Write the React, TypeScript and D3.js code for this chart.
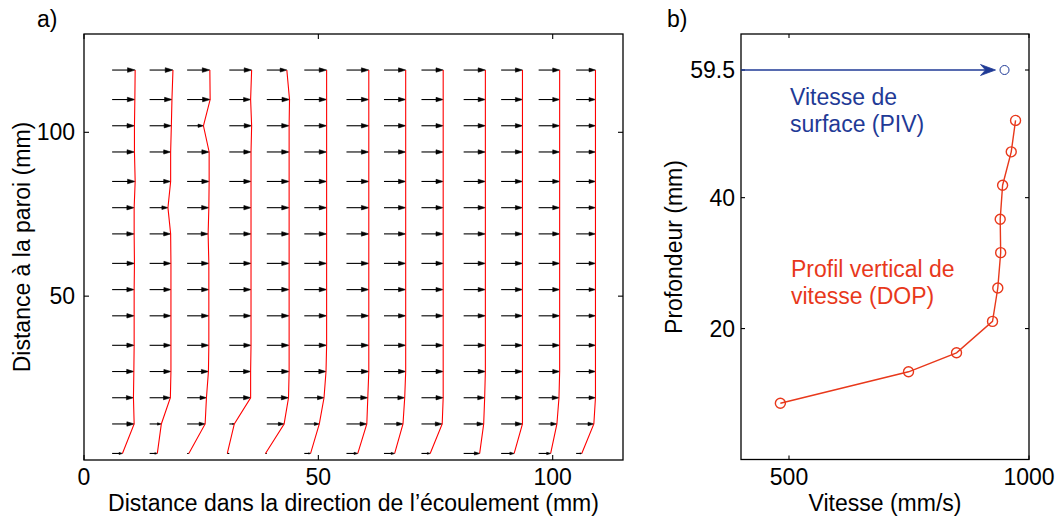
import React from 'react';
import * as d3 from 'd3';

// ---------- Panel a: PIV velocity field ----------
// vertical positions of the grid rows (mm, distance to the wall)
const rowPositions = [2, 11, 19, 27, 35, 44, 52, 60, 69, 77, 85, 94, 102, 110, 119];
// horizontal positions of the profile columns (mm)
const columnPositions = [6, 14, 22, 31, 39, 47, 56, 64, 72, 81, 89, 97, 105];
// streamwise velocity (mm/s) per column, rows bottom -> top
const profile01 = [440, 940, 910, 927, 940, 940, 940, 953, 940, 940, 983, 953, 953, 970, 983];
const profile02 = [329, 500, 885, 910, 910, 910, 910, 910, 897, 782, 897, 897, 927, 953, 996];
const profile03 = [73, 769, 825, 910, 927, 927, 927, 927, 897, 927, 940, 940, 697, 983, 970];
const profile04 = [-85, 214, 910, 910, 927, 927, 927, 927, 927, 927, 927, 927, 953, 910, 953];
const profile05 = [-56, 739, 927, 953, 953, 953, 953, 953, 953, 953, 953, 953, 953, 970, 855];
const profile06 = [269, 641, 842, 927, 953, 953, 953, 953, 953, 953, 953, 953, 953, 953, 953];
const profile07 = [483, 868, 910, 953, 953, 953, 953, 953, 953, 953, 953, 953, 953, 953, 953];
const profile08 = [457, 812, 885, 927, 927, 927, 927, 927, 927, 927, 927, 927, 927, 927, 927];
const profile09 = [372, 885, 927, 927, 927, 927, 927, 927, 927, 927, 927, 927, 927, 927, 927];
const profile10 = [684, 855, 897, 927, 927, 927, 927, 927, 927, 927, 927, 927, 927, 927, 927];
const profile11 = [556, 910, 910, 910, 910, 910, 910, 910, 910, 910, 910, 910, 910, 910, 910];
const profile12 = [513, 780, 868, 897, 897, 897, 897, 897, 897, 897, 897, 897, 897, 897, 897];
const profile13 = [240, 756, 825, 825, 825, 825, 825, 825, 825, 825, 825, 825, 825, 825, 825];
const profiles = [profile01, profile02, profile03, profile04, profile05, profile06, profile07,
  profile08, profile09, profile10, profile11, profile12, profile13];
const arrowScale = 0.005; // mm of arrow per mm/s

const xTicksA = [0, 50, 100];
const yTicksA = [50, 100];

// ---------- Panel b: DOP vertical profile ----------
const dopDepth = [8.6, 13.4, 16.3, 21.1, 26.2, 31.6, 36.7, 41.9, 47.0, 51.8];
const dopVelocity = [482, 749, 849, 924, 935, 941, 940, 945, 963, 972];
const pivDepth = 59.5;
const pivVelocity = 949;
const xTicksB = [500, 1000];
const yTicksB = [20, 40, 59.5];

const FONT = '"Liberation Sans", Arial, Helvetica, sans-serif';
const RED = '#e8381b';
const BLUE = '#1f3a96';

export default function App() {
  const W = 1058, H = 519;
  // panel a scales
  const xA = d3.scaleLinear().domain([0, 115]).range([84, 623]);
  const yA = d3.scaleLinear().domain([0, 130]).range([460, 34]);
  // panel b scales
  const xB = d3.scaleLinear().domain([400, 1000]).range([741, 1029]);
  const yB = d3.scaleLinear().domain([0, 65]).range([459.5, 34]);

  const fs = 23;
  const tickA = 5, tickB = 4;
  const tickLabelY = 484.5;
  const axisLabelY = 510.5;

  const arrows: JSX.Element[] = [];
  const redLines: JSX.Element[] = [];
  const profLine = d3.line<[number, number]>().x(d => d[0]).y(d => d[1]);
  columnPositions.forEach((cx, ci) => {
    const u = profiles[ci];
    const pts: [number, number][] = [];
    rowPositions.forEach((ry, ri) => {
      const x0 = xA(cx);
      const x1 = xA(cx + u[ri] * arrowScale);
      const y = yA(ry);
      const L = x1 - x0;
      const h = 0.33 * L;
      const w = 0.1 * Math.abs(L);
      pts.push([x1, y]);
      arrows.push(
        <g key={`a${ci}-${ri}`}>
          <line x1={x0} y1={y} x2={x1 - h * 0.5} y2={y} stroke="#000" strokeWidth={1.1} />
          <path d={`M${x1},${y}L${x1 - h},${y - w}L${x1 - h},${y + w}Z`} fill="#000" stroke="#000" strokeWidth={0.6} />
        </g>
      );
    });
    redLines.push(<path key={`r${ci}`} d={profLine(pts) || ''} fill="none" stroke="#ff0000" strokeWidth={1.1} />);
  });

  const dopPts: [number, number][] = dopDepth.map((d, i) => [xB(dopVelocity[i]), yB(d)]);

  const axL = 84, axR = 623, axT = 34, axB = 460;
  const bxL = 741, bxR = 1029, byT = 34, byB = 459.5;

  const tipX = xB(pivVelocity) - 9;
  const py = yB(pivDepth);

  return (
    <svg width={W} height={H} style={{ position: 'fixed', left: 0, top: 0, background: '#fff' }}
      fontFamily={FONT}>
      <rect x={0} y={0} width={W} height={H} fill="#fff" />
      {/* ---------- Panel a ---------- */}
      <g>
        {arrows}
        {redLines}
        <rect x={axL} y={axT} width={axR - axL} height={axB - axT} fill="none" stroke="#000" strokeWidth={1.3} />
        {xTicksA.map(t => (
          <g key={`xa${t}`}>
            <line x1={xA(t)} x2={xA(t)} y1={axB} y2={axB - tickA} stroke="#000" strokeWidth={1.1} />
            <line x1={xA(t)} x2={xA(t)} y1={axT} y2={axT + tickA} stroke="#000" strokeWidth={1.1} />
            <text x={xA(t)} y={tickLabelY} fontSize={fs} textAnchor="middle">{t}</text>
          </g>
        ))}
        {yTicksA.map(t => (
          <g key={`ya${t}`}>
            <line x1={axL} x2={axL + tickA} y1={yA(t)} y2={yA(t)} stroke="#000" strokeWidth={1.1} />
            <line x1={axR} x2={axR - tickA} y1={yA(t)} y2={yA(t)} stroke="#000" strokeWidth={1.1} />
            <text x={75} y={yA(t)} dy="0.35em" fontSize={fs} textAnchor="end">{t}</text>
          </g>
        ))}
        <text x={(axL + axR) / 2} y={axisLabelY} fontSize={fs} textAnchor="middle">
          Distance dans la direction de l’écoulement (mm)
        </text>
        <text transform={`translate(30,247) rotate(-90)`} fontSize={fs} textAnchor="middle">
          Distance à la paroi (mm)
        </text>
        <text x={37} y={27} fontSize={fs}>a)</text>
      </g>

      {/* ---------- Panel b ---------- */}
      <g>
        <rect x={bxL} y={byT} width={bxR - bxL} height={byB - byT} fill="none" stroke="#000" strokeWidth={1.3} />
        {xTicksB.map(t => (
          <g key={`xb${t}`}>
            <line x1={xB(t)} x2={xB(t)} y1={byB} y2={byB - tickB} stroke="#000" strokeWidth={1.1} />
            <line x1={xB(t)} x2={xB(t)} y1={byT} y2={byT + tickB} stroke="#000" strokeWidth={1.1} />
            <text x={xB(t)} y={tickLabelY} fontSize={fs} textAnchor="middle">{t}</text>
          </g>
        ))}
        {yTicksB.map(t => (
          <g key={`yb${t}`}>
            <line x1={bxL} x2={bxL + tickB} y1={yB(t)} y2={yB(t)} stroke="#000" strokeWidth={1.1} />
            <line x1={bxR} x2={bxR - tickB} y1={yB(t)} y2={yB(t)} stroke="#000" strokeWidth={1.1} />
            <text x={735} y={yB(t)} dy="0.35em" fontSize={fs} textAnchor="end">{t}</text>
          </g>
        ))}
        <text x={(bxL + bxR) / 2} y={axisLabelY} fontSize={fs} textAnchor="middle">Vitesse (mm/s)</text>
        <text transform={`translate(682,247) rotate(-90)`} fontSize={fs} textAnchor="middle">Profondeur (mm)</text>
        <text x={667} y={27} fontSize={fs}>b)</text>

        {/* DOP profile */}
        <path d={profLine(dopPts) || ''} fill="none" stroke={RED} strokeWidth={1.4} />
        {dopPts.map((p, i) => (
          <circle key={`c${i}`} cx={p[0]} cy={p[1]} r={5} fill="none" stroke={RED} strokeWidth={1.4} />
        ))}
        <text x={791} y={277} fontSize={fs} fill={RED}>Profil vertical de</text>
        <text x={791} y={304} fontSize={fs} fill={RED}>vitesse (DOP)</text>

        {/* PIV surface velocity */}
        <line x1={bxL} x2={tipX - 8} y1={py} y2={py} stroke={BLUE} strokeWidth={1.6} />
        <path d={`M${tipX},${py}L${tipX - 15},${py - 5.5}L${tipX - 10},${py}L${tipX - 15},${py + 5.5}Z`} fill={BLUE} stroke={BLUE} strokeWidth={0.8} />
        <circle cx={xB(pivVelocity)} cy={py} r={4.5} fill="none" stroke={BLUE} strokeWidth={1} />
        <text x={790} y={105} fontSize={fs} fill={BLUE}>Vitesse de</text>
        <text x={790} y={132} fontSize={fs} fill={BLUE}>surface (PIV)</text>
      </g>
    </svg>
  );
}
